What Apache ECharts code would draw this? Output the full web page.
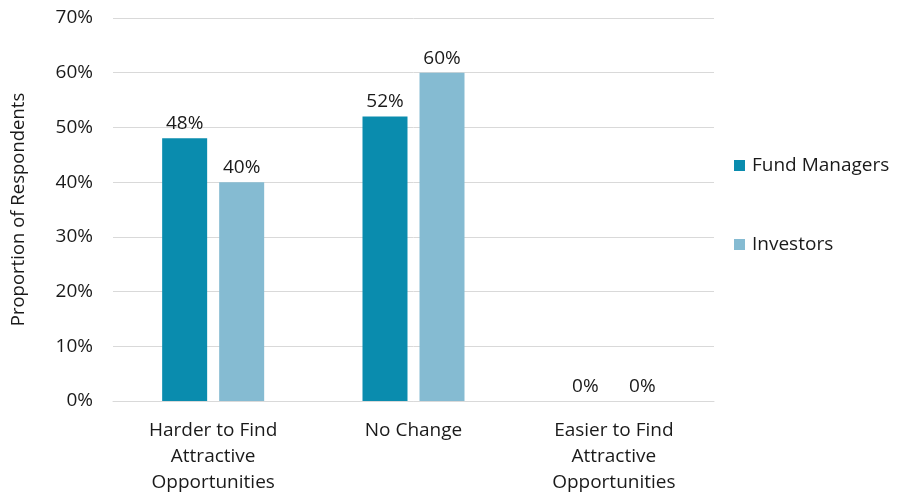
<!DOCTYPE html>
<html>
<head>
<meta charset="utf-8">
<script src="https://cdn.jsdelivr.net/npm/echarts@6/dist/echarts.min.js"></script>
<style>
  html, body { margin: 0; padding: 0; background: #fff; }
  #chart { width: 904px; height: 492px; }
</style>
</head>
<body>
<div id="chart"></div>
<script>
// Survey outcome categories (x axis)
const categories = [
  'Harder to Find\nAttractive\nOpportunities',
  'No Change',
  'Easier to Find\nAttractive\nOpportunities'
];
// Share of respondents, percent
const fundManagers = [48, 52, 0];
const investors = [40, 60, 0];
const seriesNames = ['Fund Managers', 'Investors'];
const colors = ['#0A8CAE', '#85BBD2'];

const FONT = '"Open Sans", sans-serif';
const TEXT = '#1a1a1a';

const chart = echarts.init(document.getElementById('chart'), null, { renderer: 'canvas' });

const labelStyle = {
  show: true,
  position: 'top',
  distance: 5,
  formatter: '{c}%',
  color: TEXT,
  fontFamily: FONT,
  fontSize: 19
};

chart.setOption({
  animation: false,
  grid: { left: 113, right: 190, top: 18, bottom: 91, containLabel: false, outerBoundsMode: 'none' },
  legend: {
    orient: 'vertical',
    left: 729,
    top: 151,
    itemWidth: 11,
    itemHeight: 11,
    itemGap: 60,
    icon: 'rect',
    textStyle: { color: TEXT, fontFamily: FONT, fontSize: 19, padding: [0, 0, 0, 2] },
    data: seriesNames
  },
  xAxis: {
    type: 'category',
    data: categories,
    axisLine: { show: true, lineStyle: { color: '#d9d9d9', width: 1 } },
    axisTick: { show: false },
    axisLabel: {
      color: TEXT,
      fontFamily: FONT,
      fontSize: 19,
      lineHeight: 26,
      margin: 17,
      interval: 0
    }
  },
  yAxis: {
    type: 'value',
    min: 0,
    max: 70,
    interval: 10,
    name: 'Proportion of Respondents',
    nameLocation: 'middle',
    nameGap: 85,
    nameTextStyle: { color: TEXT, fontFamily: FONT, fontSize: 18.5 },
    axisLine: { show: false },
    axisTick: { show: false },
    axisLabel: {
      formatter: '{value}%',
      color: TEXT,
      fontFamily: FONT,
      fontSize: 19,
      margin: 20
    },
    splitLine: { lineStyle: { color: '#d9d9d9', width: 1 } }
  },
  series: [
    {
      name: seriesNames[0],
      type: 'bar',
      data: fundManagers,
      barWidth: 45,
      barGap: '26.7%',
      itemStyle: { color: colors[0] },
      label: labelStyle
    },
    {
      name: seriesNames[1],
      type: 'bar',
      data: investors,
      barWidth: 45,
      barGap: '26.7%',
      itemStyle: { color: colors[1] },
      label: labelStyle
    }
  ]
});
</script>
</body>
</html>
